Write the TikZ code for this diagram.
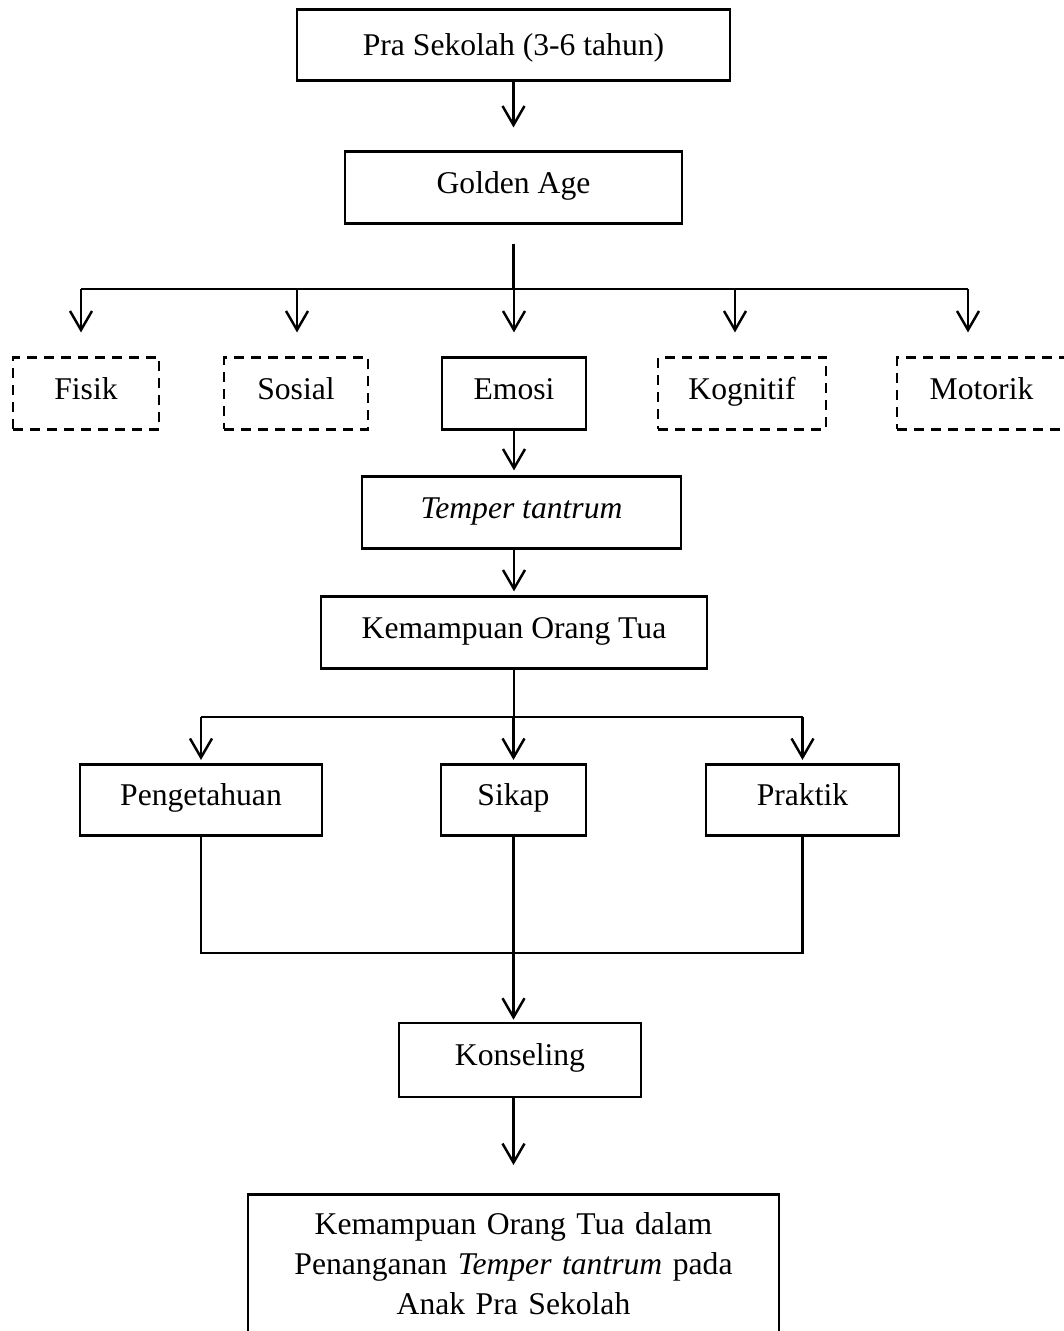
\documentclass[tikz,border=0pt]{standalone}
\usepackage{fontspec}
\setmainfont{Liberation Serif}
\usetikzlibrary{arrows.meta, positioning}
\tikzset{
  kotak/.style={draw, line width=1.5pt, minimum height=1.43cm, inner sep=0pt,
    text height=12pt, text depth=5.5pt, font=\fontsize{18}{22.7}\selectfont},
  kotakputus/.style={kotak, dash pattern=on 0.2cm off 0.14cm},
  kotakakhir/.style={draw, line width=1.5pt, anchor=north, align=center,
    text width=10.62cm, inner xsep=0pt, inner ysep=0.36cm, font=\fontsize{18}{22.7}\selectfont}
}

\begin{document}
\begin{tikzpicture}[>={Straight Barb[length=0.38cm, width=0.44cm]}, line width=1.4pt]
    \useasboundingbox (0,0) rectangle (21.26,-26.62);

    \node[kotak, minimum width=8.66cm, text depth=0pt] (pra) at (10.27,-0.9) {Pra Sekolah (3-6 tahun)};
    \node[kotak, minimum width=6.74cm] (golden) at (10.27,-3.75) {Golden Age};

    % lima aspek perkembangan
    \node[kotakputus, minimum width=2.92cm] (fisik) at (1.72,-7.87) {Fisik};
    \node[kotakputus, minimum width=2.88cm] (sosial) at (5.92,-7.87) {Sosial};
    \node[kotak, minimum width=2.88cm] (emosi) at (10.28,-7.87) {Emosi};
    \node[kotakputus, minimum width=3.36cm] (kognitif) at (14.84,-7.87) {Kognitif};
    \node[kotakputus, minimum width=3.38cm] (motorik) at (19.63,-7.87) {Motorik};

    \node[kotak, minimum width=6.38cm] (temper) at (10.43,-10.25) {\textit{Temper tantrum}};
    \node[kotak, minimum width=7.72cm] (kemampuan) at (10.28,-12.65) {Kemampuan Orang Tua};

    \node[kotak, minimum width=4.84cm] (pengetahuan) at (4.02,-16.0) {Pengetahuan};
    \node[kotak, minimum width=2.9cm] (sikap) at (10.27,-16.0) {Sikap};
    \node[kotak, minimum width=3.86cm] (praktik) at (16.05,-16.0) {Praktik};

    \node[kotak, minimum width=4.84cm, minimum height=1.48cm] (konseling) at (10.4,-21.2) {Konseling};
    \node[kotakakhir] (hasil) at (10.27,-23.86) {Kemampuan Orang Tua dalam\\
      Penanganan \textit{Temper tantrum} pada\\ Anak Pra Sekolah};

    \draw[->, shorten >=0.46cm] (pra) -- (golden);

    \coordinate (cabang) at (10.27,-5.78);
    \coordinate (cabangkiri) at (1.62,-5.78);
    \coordinate (cabangkanan) at (19.36,-5.78);
    \draw[shorten <=0.38cm] (golden.south) -- (cabang);
    \draw (cabangkiri) -- (cabangkanan);
    \foreach \n/\x in {fisik/1.62, sosial/5.94, emosi/10.28, kognitif/14.70, motorik/19.36} {
      \draw[->, shorten >=0.48cm] (\x,0 |- cabang) -- (\x,0 |- \n.north);
    }

    \draw[->, shorten >=0.1cm] (emosi.south) -- (emosi.south |- temper.north);
    \draw[->, shorten >=0.08cm] (emosi.south |- temper.south) -- (emosi.south |- kemampuan.north);

    \coordinate (cabangdua) at (10.28,-14.34);
    \draw (kemampuan.south) -- (cabangdua);
    \draw (pengetahuan |- cabangdua) -- (praktik |- cabangdua);
    \foreach \n in {pengetahuan, sikap, praktik} {
      \draw[->, shorten >=0.06cm] (\n |- cabangdua) -- (\n.north);
    }

    % gabungan ke konseling
    \coordinate (gabung) at (10.27,-19.06);
    \draw (pengetahuan.south) |- (gabung -| praktik) -- (praktik.south);
    \draw[->, shorten >=0.04cm] (sikap.south) -- (sikap.south |- konseling.north);
    \draw[->, shorten >=0.56cm] (sikap |- konseling.south) -- (sikap |- hasil.north);
\end{tikzpicture}
\end{document}
